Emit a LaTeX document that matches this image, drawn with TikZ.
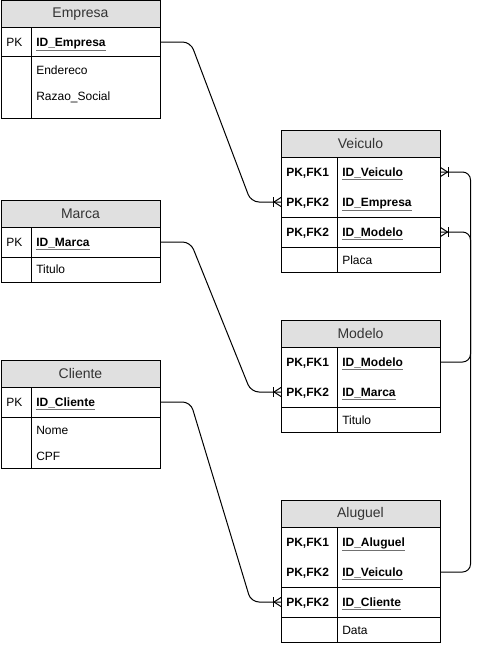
\documentclass[tikz,border=0pt]{standalone}
\usepackage{fontspec}
\setmainfont{Liberation Sans}
\usetikzlibrary{calc}
\definecolor{hdrgray}{HTML}{E0E0E0}
\definecolor{txtgray}{HTML}{333333}
\definecolor{ulgray}{HTML}{707070}
\newcommand{\pkfield}[1]{{\color{ulgray}\underline{\color{black}\textbf{#1}}}}
\tikzset{
  frame/.style={draw=black, line width=0.75pt},
  hdr/.style={draw=black, line width=0.75pt, fill=hdrgray, minimum width=119.25pt,
    minimum height=20.25pt, inner sep=0pt, text=txtgray, font=\fontsize{10.5}{12}\selectfont},
  cell/.style={anchor=west, inner xsep=3.75pt, inner ysep=0pt, text width=#1,
    text height=8pt, text depth=2pt,
    align=left, text=black, font=\fontsize{9}{11}\selectfont},
  kE/.style={cell=15pt},
  fE/.style={cell=89.25pt},
  kV/.style={cell=34.5pt, font=\fontsize{9}{11}\selectfont\bfseries},
  fV/.style={cell=69.75pt},
  conn/.style={draw=black, line width=0.75pt, rounded corners=6pt},
  crowL/.pic={\draw[line width=0.75pt] (0,-4.5) -- (-7,0) -- (0,4.5);
              \draw[line width=0.75pt] (-8,-5) -- (-8,5);},
  crowR/.pic={\draw[line width=0.75pt] (0,-4.5) -- (7,0) -- (0,4.5);
              \draw[line width=0.75pt] (8,-5) -- (8,5);}
}
\begin{document}
\begin{tikzpicture}[x=0.75pt,y=-0.75pt]
\fill[white] (0,0) rectangle (480,646);
\useasboundingbox (0,0) rectangle (480,646);

% ---------- Empresa ----------
\node[hdr] (emp) at (80.5,14) {Empresa};
\draw[frame] (1,27.5) rectangle (160,118);
\draw[frame] (31,27.5) -- (31,118);
\draw[frame] (1,56.5) -- (160,56.5);
\node[kE] (emp-k1) at (1,42) {PK};
\node[fE] (emp-f1) at (31,42) {\pkfield{ID\_Empresa}};
\node[fE] (emp-f2) at (31,70) {Endereco};
\node[fE] (emp-f3) at (31,96) {Razao\_Social};

% ---------- Marca ----------
\node[hdr] (mar) at (80.5,213.5) {Marca};
\draw[frame] (1,227) rectangle (160,282);
\draw[frame] (31,227) -- (31,282);
\draw[frame] (1,257) -- (160,257);
\node[kE] (mar-k1) at (1,242) {PK};
\node[fE] (mar-f1) at (31,242) {\pkfield{ID\_Marca}};
\node[fE] (mar-f2) at (31,269) {Titulo};

% ---------- Cliente ----------
\node[hdr] (cli) at (80.5,373.5) {Cliente};
\draw[frame] (1,387) rectangle (160,468);
\draw[frame] (31,387) -- (31,468);
\draw[frame] (1,417) -- (160,417);
\node[kE] (cli-k1) at (1,402) {PK};
\node[fE] (cli-f1) at (31,402) {\pkfield{ID\_Cliente}};
\node[fE] (cli-f2) at (31,430) {Nome};
\node[fE] (cli-f3) at (31,456) {CPF};

% ---------- Veiculo ----------
\node[hdr] (vei) at (360.5,143.5) {Veiculo};
\draw[frame] (281,157) rectangle (440,272);
\draw[frame] (337,157) -- (337,272);
\draw[frame] (281,217) -- (440,217);
\draw[frame] (281,247) -- (440,247);
\node[kV] (vei-k1) at (281,172) {PK,FK1};
\node[kV] (vei-k2) at (281,202) {PK,FK2};
\node[kV] (vei-k3) at (281,232) {PK,FK2};
\node[fV] (vei-f1) at (337,172) {\pkfield{ID\_Veiculo}};
\node[fV] (vei-f2) at (337,202) {\pkfield{ID\_Empresa}};
\node[fV] (vei-f3) at (337,232) {\pkfield{ID\_Modelo}};
\node[fV] (vei-f4) at (337,260) {Placa};

% ---------- Modelo ----------
\node[hdr] (mod) at (360.5,333.5) {Modelo};
\draw[frame] (281,347) rectangle (440,432);
\draw[frame] (337,347) -- (337,432);
\draw[frame] (281,407) -- (440,407);
\node[kV] (mod-k1) at (281,362) {PK,FK1};
\node[kV] (mod-k2) at (281,392) {PK,FK2};
\node[fV] (mod-f1) at (337,362) {\pkfield{ID\_Modelo}};
\node[fV] (mod-f2) at (337,392) {\pkfield{ID\_Marca}};
\node[fV] (mod-f3) at (337,420) {Titulo};

% ---------- Aluguel ----------
\node[hdr] (alu) at (360.5,513.5) {Aluguel};
\draw[frame] (281,527) rectangle (440,642);
\draw[frame] (337,527) -- (337,642);
\draw[frame] (281,587) -- (440,587);
\draw[frame] (281,617) -- (440,617);
\node[kV] (alu-k1) at (281,542) {PK,FK1};
\node[kV] (alu-k2) at (281,572) {PK,FK2};
\node[kV] (alu-k3) at (281,602) {PK,FK2};
\node[fV] (alu-f1) at (337,542) {\pkfield{ID\_Aluguel}};
\node[fV] (alu-f2) at (337,572) {\pkfield{ID\_Veiculo}};
\node[fV] (alu-f3) at (337,602) {\pkfield{ID\_Cliente}};
\node[fV] (alu-f4) at (337,630) {Data};

% ---------- Connectors ----------
\draw[conn] (emp-f1.east) -- ++(30,0) -- ($(vei-k2.west)+(-30,0)$) -- (vei-k2.west);
\pic at (vei-k2.west) {crowL};
\draw[conn] (mar-f1.east) -- ++(30,0) -- ($(mod-k2.west)+(-30,0)$) -- (mod-k2.west);
\pic at (mod-k2.west) {crowL};
\draw[conn] (cli-f1.east) -- ++(30,0) -- ($(alu-k3.west)+(-30,0)$) -- (alu-k3.west);
\pic at (alu-k3.west) {crowL};
\draw[conn] (alu-f2.east) -- ++(30,0) -- ($(vei-f1.east)+(30,0)$) -- (vei-f1.east);
\pic at (vei-f1.east) {crowR};
\draw[conn] (mod-f1.east) -- ++(30,0) -- ($(vei-f3.east)+(30,0)$) -- (vei-f3.east);
\pic at (vei-f3.east) {crowR};
\end{tikzpicture}
\end{document}
